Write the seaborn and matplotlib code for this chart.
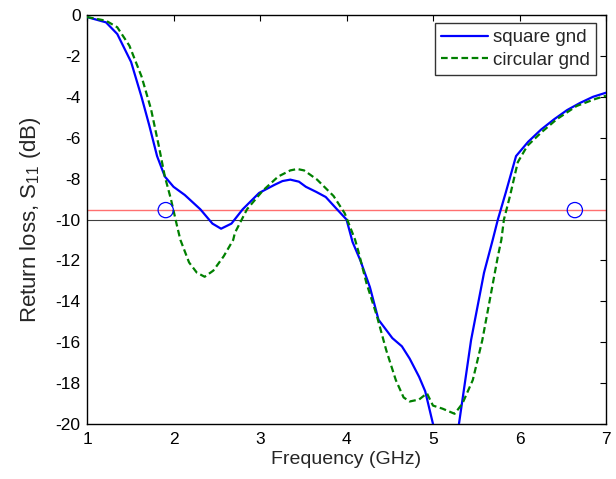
import numpy as np
import pandas as pd
import matplotlib
matplotlib.use("Agg")
import matplotlib.pyplot as plt
import seaborn as sns

# ---- data ----
square_freq = [1.0, 1.22, 1.35, 1.51, 1.63, 1.72, 1.81, 1.90, 2.0, 2.13, 2.31, 2.45, 2.55, 2.67,
               2.8, 2.99, 3.17, 3.26, 3.35, 3.45, 3.53, 3.65, 3.76, 3.89, 4.0, 4.07, 4.16, 4.27, 4.37,
               4.53, 4.64, 4.73, 4.84, 4.91, 5.0, 5.15, 5.30, 5.44, 5.59, 5.69, 5.75, 5.84, 5.90, 5.96,
               6.1, 6.25, 6.4, 6.55, 6.7, 6.85, 7.0]
square_s11 = [-0.1, -0.36, -0.93, -2.3, -4.0, -5.4, -6.9, -7.9, -8.4, -8.8, -9.5, -10.2, -10.45, -10.2,
              -9.5, -8.7, -8.3, -8.12, -8.05, -8.15, -8.4, -8.65, -8.9, -9.5, -10.0, -11.1, -12.0, -13.3,
              -14.9, -15.8, -16.2, -16.8, -17.7, -18.4, -20.0, -24.0, -20.0, -15.9, -12.6, -11.0, -10.0,
              -8.7, -7.8, -6.9, -6.2, -5.6, -5.1, -4.65, -4.3, -4.0, -3.8]

circ_freq = [1.0, 1.22, 1.35, 1.49, 1.63, 1.74, 1.83, 1.90, 1.97, 2.04, 2.08, 2.18, 2.27, 2.36, 2.46,
             2.58, 2.69, 2.71, 2.85, 3.03, 3.21, 3.35, 3.43, 3.51, 3.66, 3.85, 3.98, 4.10, 4.14, 4.23, 4.35,
             4.46, 4.57, 4.66, 4.73, 4.84, 4.93, 5.0, 5.11, 5.25, 5.34, 5.46, 5.57, 5.68, 5.75, 5.79,
             5.82, 5.89, 5.98, 6.09, 6.25, 6.43, 6.66, 6.88, 7.0]
circ_s11 = [-0.1, -0.28, -0.6, -1.5, -3.0, -4.6, -6.4, -7.9, -9.0, -10.3, -11.0, -12.1, -12.6, -12.8, -12.5,
            -11.8, -11.0, -10.65, -9.5, -8.6, -7.9, -7.6, -7.53, -7.6, -8.05, -8.85, -9.7, -11.0, -11.6, -13.1,
            -14.7, -16.4, -17.85, -18.7, -18.9, -18.8, -18.5, -19.1, -19.25, -19.5, -19.0, -17.85, -15.9, -13.4,
            -11.8, -11.0, -10.0, -8.85, -7.2, -6.4, -5.75, -5.1, -4.45, -4.1, -3.95]

series_names = ["square gnd", "circular gnd"]
ref_red = -9.54
ref_black = -10.0
marker_freq = [1.91, 6.64]
marker_s11 = [-9.54, -9.54]

xticks = [1, 2, 3, 4, 5, 6, 7]
yticks = [0, -2, -4, -6, -8, -10, -12, -14, -16, -18, -20]

# ---- build long table ----
df = pd.concat([
    pd.DataFrame({"f": square_freq, "s": square_s11, "name": series_names[0]}),
    pd.DataFrame({"f": circ_freq, "s": circ_s11, "name": series_names[1]}),
], ignore_index=True)

sns.set_style("white")
plt.rcParams["font.family"] = ["Liberation Sans", "DejaVu Sans"]
plt.rcParams["mathtext.fontset"] = "custom"
plt.rcParams["mathtext.rm"] = "Liberation Sans"
plt.rcParams["mathtext.it"] = "Liberation Sans"

fig = plt.figure(figsize=(6.16, 4.79), dpi=100)
ax = fig.add_axes([87 / 616, 1 - 424 / 479, (606 - 87) / 616, (424 - 15) / 479])

ax.axhline(ref_red, color="#ff7070", lw=1.0, zorder=1)
ax.axhline(ref_black, color="#404040", lw=0.8, zorder=1)

sns.lineplot(data=df, x="f", y="s", hue="name", style="name",
             palette={"square gnd": "#0000ff", "circular gnd": "#008000"},
             dashes={"square gnd": "", "circular gnd": (3, 1.6)},
             lw=1.6, sort=False, ax=ax, zorder=3)

sns.scatterplot(x=marker_freq, y=marker_s11, ax=ax, marker="o", s=120,
                facecolor="none", edgecolor="#0000ff", linewidth=0.9, zorder=4, legend=False)

ax.set_xlim(1, 7)
ax.set_ylim(-20, 0)
ax.set_xticks(xticks)
ax.set_yticks(yticks)
ax.set_xticklabels([str(t) for t in xticks])
ax.set_yticklabels([str(t) for t in yticks])
ax.tick_params(direction="in", length=4, width=0.8, top=True, right=True,
               labelsize=12.5, colors="black")
ax.tick_params(axis="x", pad=6)
ax.tick_params(axis="y", pad=4.5)
ax.set_xlabel("Frequency (GHz)", fontsize=14, labelpad=3)
ax.set_ylabel("Return loss, S$_{11}$ (dB)", fontsize=16, labelpad=9)
for sp in ax.spines.values():
    sp.set_color("black")
    sp.set_linewidth(1.0)

leg = ax.legend(loc="upper right", bbox_to_anchor=(0.981, 0.980), fontsize=13.5,
                frameon=True, fancybox=False, edgecolor="black", handlelength=2.5,
                borderpad=0.32, labelspacing=0.28, handletextpad=0.3, borderaxespad=0.0)
leg.get_frame().set_linewidth(1.0)

fig.savefig("out.png", dpi=100)
